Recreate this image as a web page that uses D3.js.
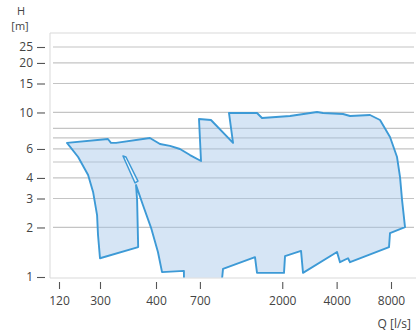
<!DOCTYPE html>
<html><head><meta charset="utf-8">
<script src="https://cdn.jsdelivr.net/npm/d3@7"></script>
<style>
html,body{margin:0;padding:0;background:#fff;}
text{font-family:"Open Sans","Noto Sans",sans-serif;fill:#444;}
</style></head>
<body><div id="chart"></div>
<script>
// ---- data ----
const qTicks = [120, 300, 400, 700, 2000, 4000, 8000];
const hTicks = [1, 2, 3, 4, 6, 10, 15, 20, 25];
const hGrid = [2, 3, 4, 5, 6, 7, 8, 10, 15, 20, 25];
// outline of the operating range (Q in l/s, H in m)
const rangeQ = [143.5, 312.5, 317.4, 325.8, 387.7, 420.9, 478, 543, 617, 710, 692, 806, 1068, 1014, 1450, 1545, 2208, 3116, 3363, 4341, 4747, 6122, 6956, 7900, 8640, 8977, 9209, 9565, 7900, 7800, 4747, 4625, 4176, 4020, 2606, 2541, 2072, 2045, 1450, 1413, 940, 928, 571, 571, 432, 410, 390, 374, 361, 363, 365, 300, 287, 281, 257, 230, 184];
const rangeH = [6.53, 6.90, 6.53, 6.53, 7.00, 6.43, 6.26, 6.00, 5.51, 5.07, 9.13, 9.00, 6.53, 9.93, 9.93, 9.26, 9.52, 10.07, 9.93, 9.79, 9.52, 9.65, 9.00, 7.10, 5.36, 4.05, 2.94, 2.01, 1.85, 1.52, 1.23, 1.30, 1.23, 1.42, 1.06, 1.44, 1.34, 1.06, 1.06, 1.32, 1.12, 0.97, 0.97, 1.09, 1.07, 1.42, 1.99, 2.74, 3.62, 2.94, 1.52, 1.30, 1.80, 2.38, 3.29, 4.17, 5.36];
// small sliver line inside the range
const sliverQ = [337.6, 342.8, 364.6, 359.2];
const sliverH = [5.44, 5.36, 3.83, 3.73];

// ---- layout ----
const W = 417, H = 332;
const plot = {left: 50, top: 33, right: 416, bottom: 278};

const x = d3.scaleLog().domain([120, 300, 400, 8000]).range([59, 100, 156, 391]);
const y = d3.scaleLog().domain([1, 25]).range([277, 47]);

const svg = d3.select("#chart").append("svg").attr("width", W).attr("height", H);

svg.append("defs").append("clipPath").attr("id", "clip")
  .append("rect").attr("x", plot.left).attr("y", plot.top)
  .attr("width", plot.right - plot.left).attr("height", plot.bottom - plot.top - 0.5);

// frame
svg.append("path")
  .attr("d", `M${plot.right},${plot.top}H${plot.left}V${plot.bottom}H${plot.right}`)
  .attr("fill", "none").attr("stroke", "#d9d9d9").attr("stroke-width", 1);

// grid
svg.append("g").selectAll("line").data(hGrid).join("line")
  .attr("x1", 53).attr("x2", 414)
  .attr("y1", d => y(d)).attr("y2", d => y(d))
  .attr("stroke", "#c4c4c4").attr("stroke-width", 1.2);

// range area
const pts = rangeQ.map((q, i) => [x(q), y(rangeH[i])]);
const g = svg.append("g").attr("clip-path", "url(#clip)");
g.append("path")
  .attr("d", d3.line().curve(d3.curveLinear)(pts) + "Z")
  .attr("fill", "rgb(165,198,232)").attr("fill-opacity", 0.45)
  .attr("stroke", "#3d9ad6").attr("stroke-width", 1.9).attr("stroke-linejoin", "round");
const sp = sliverQ.map((q, i) => [x(q), y(sliverH[i])]);
g.append("path")
  .attr("d", d3.line()(sp) + "Z")
  .attr("fill", "#fff").attr("fill-opacity", 0.6)
  .attr("stroke", "#3d9ad6").attr("stroke-width", 1.5).attr("stroke-linejoin", "round");

// y axis
const ya = svg.append("g").attr("transform", "translate(45,0)")
  .call(d3.axisLeft(y).tickValues(hTicks).tickFormat(d => d).tickSize(8).tickPadding(4));
ya.select(".domain").remove();
ya.selectAll(".tick line").attr("stroke", "#555").attr("stroke-width", 1.1);
ya.selectAll(".tick text").style("font-size", "12px").attr("fill", "#444");

// x axis
const xa = svg.append("g").attr("transform", "translate(0,282)")
  .call(d3.axisBottom(x).tickValues(qTicks).tickFormat(d => d).tickSize(7).tickPadding(7));
xa.select(".domain").remove();
xa.selectAll(".tick line").attr("stroke", "#555").attr("stroke-width", 1.1);
xa.selectAll(".tick text").style("font-size", "12px").attr("fill", "#444");

// axis titles
svg.append("text").attr("x", 21).attr("y", 15).attr("text-anchor", "middle").style("font-size", "11px").text("H");
svg.append("text").attr("x", 20).attr("y", 30).attr("text-anchor", "middle").style("font-size", "11px").text("[m]");
svg.append("text").attr("x", 411).attr("y", 328).attr("text-anchor", "end").style("font-size", "12px").text("Q [l/s]");
</script></body></html>
